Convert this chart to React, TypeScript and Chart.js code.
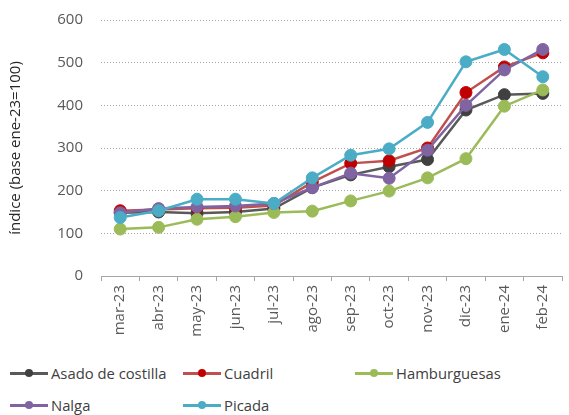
import React, { useEffect, useRef } from "react";
import { Chart, registerables } from "chart.js";

Chart.register(...registerables);

const categories = ["mar-23", "abr-23", "may-23", "jun-23", "jul-23", "ago-23", "sep-23", "oct-23", "nov-23", "dic-23", "ene-24", "feb-24"];
const asado = [148, 150, 147, 150, 158, 207, 237, 256, 273, 389, 425, 428];
const cuadril = [153, 156, 159, 160, 165, 220, 264, 270, 300, 430, 490, 523];
const hamburguesas = [110, 114, 133, 139, 149, 152, 176, 199, 230, 275, 398, 436];
const nalga = [148, 158, 162, 164, 170, 207, 241, 229, 295, 400, 483, 531];
const picada = [137, 153, 180, 180, 170, 230, 283, 298, 360, 502, 531, 467];
const yTicks = [0, 100, 200, 300, 400, 500, 600];

const seriesNames = ["Asado de costilla", "Cuadril", "Hamburguesas", "Nalga", "Picada"];
const seriesData = [asado, cuadril, hamburguesas, nalga, picada];
const lineColors = ["#595959", "#C0504D", "#9BBB59", "#8064A2", "#4BACC6"];
const markerColors = ["#404040", "#C00000", "#9BBB59", "#8064A2", "#4BACC6"];

const FONT = "'Open Sans', sans-serif";

export default function App() {
  const ref = useRef<HTMLCanvasElement | null>(null);

  useEffect(() => {
    document.body.style.margin = "0";
    const ctx = ref.current!;
    const chart = new Chart(ctx, {
      type: "line",
      data: {
        labels: categories,
        datasets: seriesData.map((d, i) => ({
          label: seriesNames[i],
          data: d,
          borderColor: lineColors[i],
          backgroundColor: markerColors[i],
          pointBackgroundColor: markerColors[i],
          pointBorderColor: markerColors[i],
          borderWidth: 2.5,
          pointRadius: 6,
          pointBorderWidth: 1,
          tension: 0,
          order: seriesData.length - 1 - i,
        })),
      },
      options: {
        animation: false,
        responsive: false,
        maintainAspectRatio: false,
        layout: { padding: { top: 20, right: 0, bottom: 0, left: 0 } },
        plugins: {
          legend: { display: false },
          tooltip: { enabled: false },
        },
        scales: {
          x: {
            offset: true,
            afterFit: (s: any) => { s.height = 69; s.paddingRight = 0; s.paddingLeft = 0; },
            grid: {
              offset: true,
              drawOnChartArea: false,
              drawTicks: true,
              tickLength: 5,
              color: "#A6A6A6",
            },
            border: { display: true, color: "#A6A6A6", width: 1 },
            ticks: {
              maxRotation: 90,
              minRotation: 90,
              color: "#595959",
              padding: 4,
              font: { family: FONT, size: 15 },
            },
          },
          y: {
            min: 0,
            max: 600,
            afterFit: (s: any) => { s.width = 101; s.paddingTop = 0; s.paddingBottom = 0; },
            afterBuildTicks: (s: any) => { s.ticks = yTicks.map((v) => ({ value: v })); },
            border: { display: false, dash: [1, 2] },
            grid: {
              color: (c: any) => (c.tick && c.tick.value === 0 ? "rgba(0,0,0,0)" : "#A6A6A6"),
              drawTicks: false,
            },
            ticks: {
              color: "#595959",
              padding: 18,
              font: { family: FONT, size: 15 },
            },
            title: {
              display: true,
              text: "índice (base ene-23=100)",
              color: "#262626",
              font: { family: FONT, size: 15 },
              padding: { top: 7, bottom: 0 },
            },
          },
        },
      },
    });
    return () => chart.destroy();
  }, []);

  const cols = [10, 183, 355];
  return (
    <div style={{ position: "relative", width: 569, height: 415, background: "#fff", fontFamily: FONT }}>
      <canvas ref={ref} width={569} height={345} style={{ position: "absolute", left: 0, top: 0, width: 569, height: 345 }} />
      {seriesNames.map((name, i) => {
        const row = i < 3 ? 0 : 1;
        const col = i < 3 ? i : i - 3 === 0 ? 0 : 1;
        const cy = row === 0 ? 373 : 405;
        return (
          <div key={name} style={{ position: "absolute", left: cols[col], top: cy - 11, height: 22, display: "flex", alignItems: "center", whiteSpace: "nowrap" }}>
            <div style={{ position: "relative", width: 38, height: 22 }}>
              <div style={{ position: "absolute", left: 0, top: 10, width: 38, height: 2.5, background: lineColors[i] }} />
              <div style={{ position: "absolute", left: 15, top: 7, width: 8, height: 8, borderRadius: 4, background: markerColors[i] }} />
            </div>
            <span style={{ marginLeft: 3, fontSize: 14.8, color: "#404040" }}>{name}</span>
          </div>
        );
      })}
    </div>
  );
}
